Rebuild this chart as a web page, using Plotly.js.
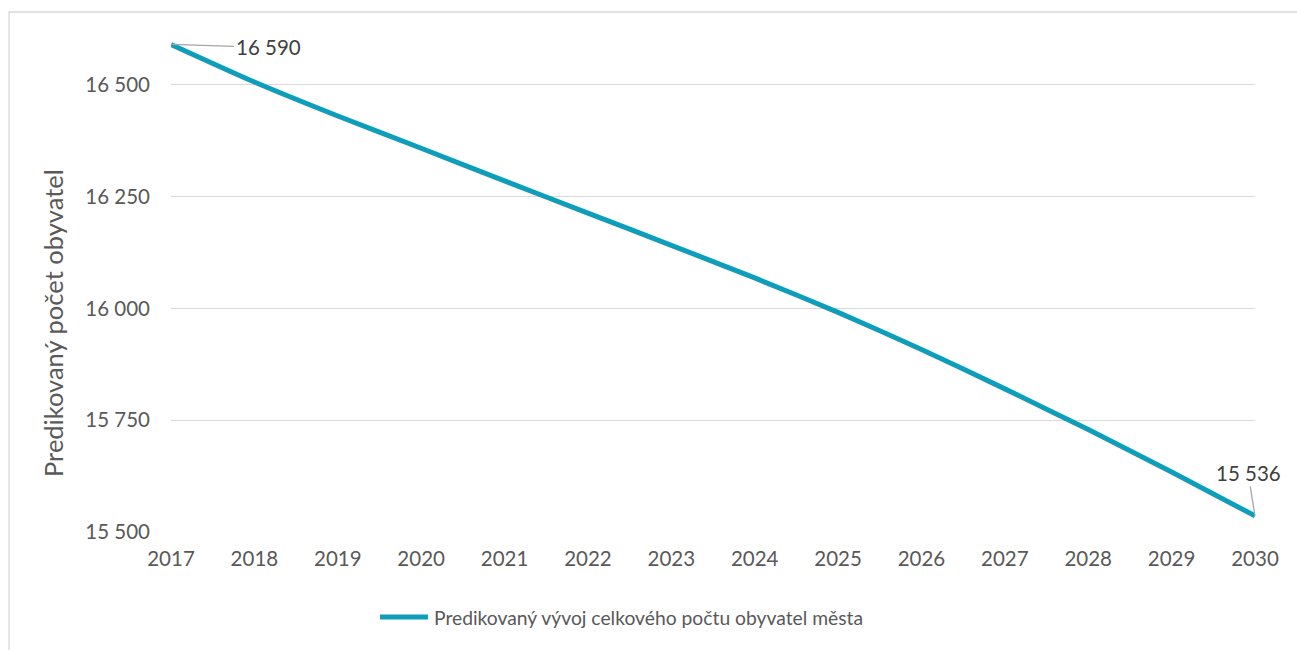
<!DOCTYPE html>
<html>
<head>
<meta charset="utf-8">
<script src="https://cdn.plot.ly/plotly-3.0.1.min.js"></script>
<style>html,body{margin:0;padding:0;background:#fff;}#chart{width:1297px;height:650px;}</style>
</head>
<body>
<div id="chart"></div>
<script>
var years = [2017, 2018, 2019, 2020, 2021, 2022, 2023, 2024, 2025, 2026, 2027, 2028, 2029, 2030];
var population = [16590, 16506, 16430, 16358, 16285, 16213, 16141, 16068, 15991, 15908, 15820, 15729, 15634, 15536];
var seriesName = "Predikovaný vývoj celkového počtu obyvatel města";
var yTitle = "Predikovaný počet obyvatel";
var yTicks = [15500, 15750, 16000, 16250, 16500];
var yTickLabels = ["15 500", "15 750", "16 000", "16 250", "16 500"];

var FONT = "Lato, 'Open Sans', sans-serif";
var TXT = "#595959";
var LINE = "#0e9dbb";

function fmt(v){ return String(v).replace(/\B(?=(\d{3})+(?!\d))/g, " "); }

var trace = {
  x: years, y: population, type: "scatter", mode: "lines", name: seriesName,
  line: {color: LINE, width: 5, shape: "spline", smoothing: 0.6},
  hoverinfo: "skip", showlegend: false
};

var last = years.length - 1;
var layout = {
  width: 1297, height: 650,
  margin: {l: 171, r: 42, t: 40, b: 118},
  paper_bgcolor: "#fff", plot_bgcolor: "#fff",
  font: {family: FONT, color: TXT, size: 20},
  showlegend: false,
  xaxis: {range: [years[0], years[last]], tickvals: years, ticktext: years.map(String),
          showgrid: false, zeroline: false, showline: false, ticks: "",
          tickfont: {family: FONT, size: 20.5, color: TXT}, ticklabelstandoff: 12, fixedrange: true},
  yaxis: {range: [15500, 16600], tickvals: yTicks, ticktext: yTickLabels,
          showgrid: true, gridcolor: "#d9d9d9", gridwidth: 1.3, zeroline: false, showline: false, ticks: "",
          tickfont: {family: FONT, size: 20.5, color: TXT}, ticklabelstandoff: 20, fixedrange: true},
  shapes: [
    {type: "rect", xref: "paper", yref: "paper", x0: -0.1494, x1: 1.2, y0: -0.5, y1: 1.0569,
     line: {color: "#d9d9d9", width: 1.3}, fillcolor: "rgba(0,0,0,0)", layer: "below"},
    {type: "line", xref: "paper", yref: "paper", x0: 0.1928, x1: 0.2371, y0: -0.1728, y1: -0.1728,
     line: {color: LINE, width: 5}}
  ],
  annotations: [
    {x: -0.1089, y: 0.4248, xref: "paper", yref: "paper", xanchor: "center", yanchor: "middle",
     text: yTitle, textangle: -90, showarrow: false, font: {family: FONT, size: 25.5, color: TXT}},
    {x: years[0], y: population[0], xref: "x", yref: "y", text: fmt(population[0]),
     showarrow: true, arrowhead: 0, arrowwidth: 1.3, arrowcolor: "#a6a6a6", ax: 97, ay: 3, standoff: 0,
     font: {family: FONT, size: 20.5, color: "#404040"}},
    {x: years[last], y: population[last], xref: "x", yref: "y", text: fmt(population[last]),
     showarrow: true, arrowhead: 0, arrowwidth: 1.3, arrowcolor: "#a6a6a6", ax: -7, ay: -43, standoff: 0,
     font: {family: FONT, size: 20.5, color: "#404040"}},
    {x: 0.2405, y: -0.1728, xref: "paper", yref: "paper", xanchor: "left", yanchor: "middle",
     text: seriesName, showarrow: false, font: {family: FONT, size: 19.3, color: TXT}}
  ]
};

Plotly.newPlot("chart", [trace], layout, {displayModeBar: false, staticPlot: true});
</script>
</body>
</html>
